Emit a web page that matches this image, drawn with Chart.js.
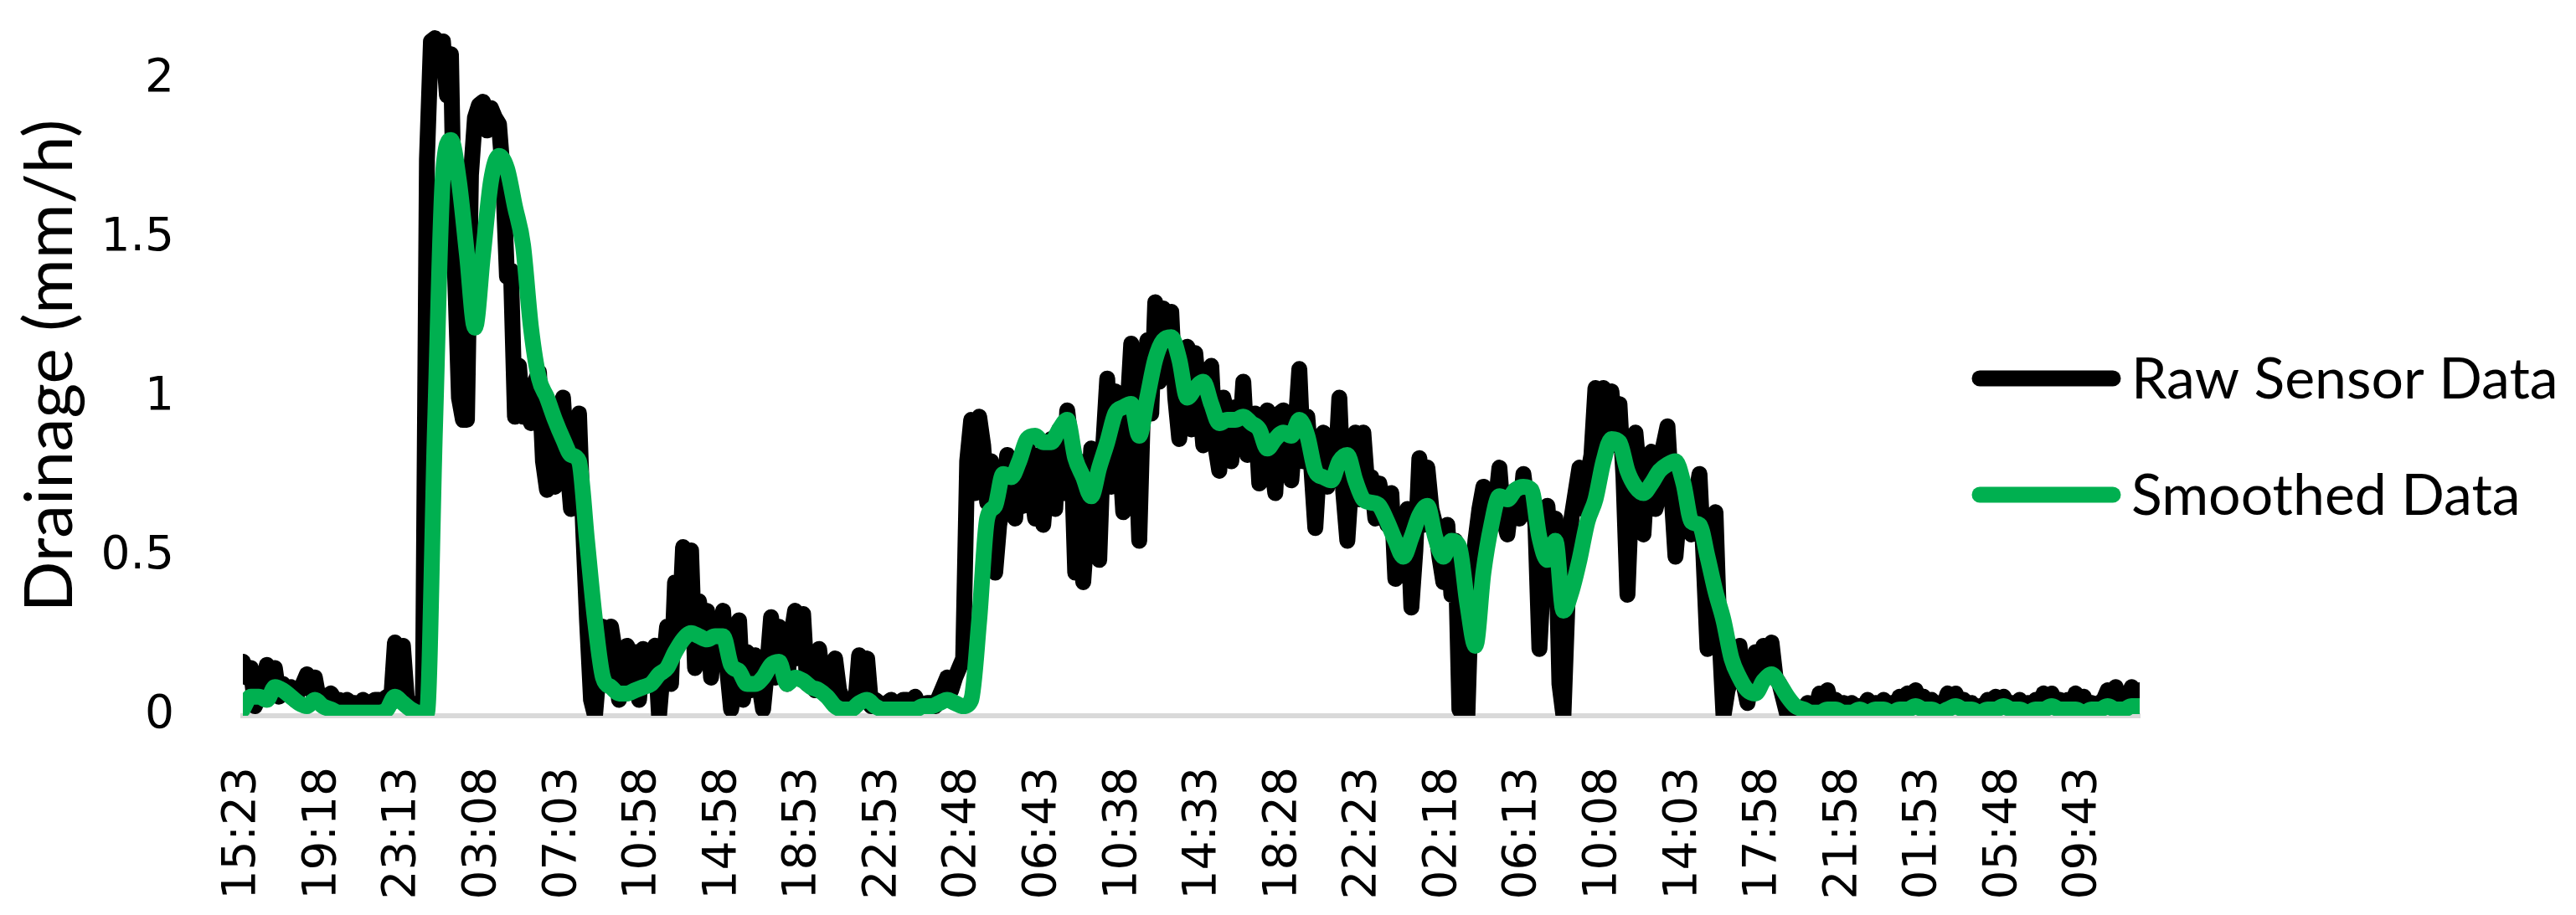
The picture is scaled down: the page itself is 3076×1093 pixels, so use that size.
<!DOCTYPE html>
<html>
<head>
<meta charset="utf-8">
<script src="https://cdn.jsdelivr.net/npm/chart.js@4.4.1/dist/chart.umd.min.js"></script>
<style>
  body { margin: 0; background: #fff; }
  canvas { display: block; }
</style>
</head>
<body>
<canvas id="drainage" width="3076" height="1093"></canvas>
<script>
// tick labels on the time axis (one every 10 samples of the smoothed series)
const tickLabels = ['15:23', '19:18', '23:13', '03:08', '07:03', '10:58', '14:58', '18:53', '22:53', '02:48',
    '06:43', '10:38', '14:33', '18:28', '22:23', '02:18', '06:13', '10:08', '14:03', '17:58',
    '21:58', '01:53', '05:48', '09:43'];
const tickEvery = 10;
const rawStep = 0.5;   // raw sensor sampled twice as often as the smoothed series

// raw sensor readings (mm/h)
const rawData = [
    0.17, 0.12, 0.15, 0.03, 0.06, 0.10, 0.16, 0.12, 0.15, 0.06,
    0.10, 0.07, 0.09, 0.05, 0.08, 0.10, 0.13, 0.08, 0.12, 0.05,
    0.06, 0.04, 0.07, 0.05, 0.05, 0.03, 0.05, 0.04, 0.04, 0.03,
    0.05, 0.04, 0.04, 0.05, 0.05, 0.03, 0.06, 0.04, 0.23, 0.20,
    0.22, 0.05, 0.04, 0.02, 0.03, 0.05, 1.75, 2.12, 2.13, 2.10,
    2.12, 1.95, 2.08, 1.40, 1.00, 0.93, 0.93, 1.70, 1.88, 1.92,
    1.93, 1.84, 1.91, 1.88, 1.86, 1.70, 1.38, 1.40, 0.94, 1.10,
    0.94, 0.96, 0.92, 1.05, 1.08, 0.80, 0.71, 0.90, 0.72, 0.95,
    1.00, 0.80, 0.65, 0.90, 0.95, 0.60, 0.30, 0.05, 0.00, 0.15,
    0.28, 0.10, 0.28, 0.20, 0.05, 0.15, 0.22, 0.08, 0.20, 0.05,
    0.21, 0.10, 0.18, 0.22, 0.00, 0.15, 0.28, 0.10, 0.42, 0.25,
    0.53, 0.30, 0.52, 0.15, 0.36, 0.20, 0.33, 0.12, 0.30, 0.20,
    0.33, 0.15, 0.02, 0.10, 0.30, 0.05, 0.20, 0.08, 0.19, 0.10,
    0.02, 0.15, 0.31, 0.12, 0.28, 0.20, 0.10, 0.25, 0.33, 0.18,
    0.32, 0.10, 0.14, 0.08, 0.21, 0.10, 0.15, 0.06, 0.18, 0.08,
    0.05, 0.02, 0.04, 0.03, 0.19, 0.06, 0.18, 0.03, 0.05, 0.04,
    0.03, 0.04, 0.05, 0.03, 0.04, 0.05, 0.05, 0.04, 0.06, 0.03,
    0.03, 0.04, 0.04, 0.03, 0.06, 0.09, 0.12, 0.08, 0.12, 0.15,
    0.18, 0.80, 0.93, 0.70, 0.94, 0.85, 0.67, 0.80, 0.45, 0.60,
    0.67, 0.82, 0.77, 0.62, 0.80, 0.66, 0.86, 0.72, 0.62, 0.82,
    0.60, 0.75, 0.87, 0.65, 0.90, 0.70, 0.96, 0.85, 0.45, 0.80,
    0.42, 0.60, 0.84, 0.66, 0.49, 0.85, 1.06, 0.72, 1.02, 0.85,
    0.64, 0.95, 1.17, 0.90, 0.55, 1.00, 1.18, 0.95, 1.30, 1.05,
    1.28, 1.10, 1.27, 1.00, 0.87, 1.05, 1.16, 0.90, 1.14, 1.00,
    0.85, 0.95, 1.10, 0.85, 0.77, 1.00, 0.95, 0.80, 0.97, 0.85,
    1.05, 0.82, 0.90, 0.95, 0.73, 0.92, 0.96, 0.80, 0.70, 0.95,
    0.96, 0.82, 0.74, 0.90, 1.09, 0.80, 0.94, 0.78, 0.59, 0.80,
    0.89, 0.72, 0.88, 0.76, 1.00, 0.70, 0.55, 0.74, 0.89, 0.68,
    0.89, 0.72, 0.75, 0.62, 0.73, 0.66, 0.60, 0.70, 0.43, 0.62,
    0.55, 0.65, 0.34, 0.52, 0.81, 0.60, 0.78, 0.65, 0.60, 0.50,
    0.42, 0.60, 0.38, 0.55, 0.02, 0.00, 0.00, 0.40, 0.55, 0.65,
    0.72, 0.60, 0.70, 0.66, 0.78, 0.62, 0.57, 0.68, 0.71, 0.62,
    0.76, 0.66, 0.70, 0.60, 0.21, 0.45, 0.66, 0.50, 0.62, 0.10,
    0.00, 0.35, 0.62, 0.70, 0.78, 0.65, 0.75, 0.82, 1.03, 0.80,
    1.03, 0.90, 1.02, 0.85, 0.98, 0.75, 0.38, 0.70, 0.89, 0.75,
    0.57, 0.78, 0.83, 0.65, 0.70, 0.85, 0.91, 0.70, 0.50, 0.65,
    0.60, 0.72, 0.57, 0.68, 0.76, 0.50, 0.21, 0.55, 0.64, 0.25,
    0.00, 0.08, 0.12, 0.20, 0.22, 0.10, 0.04, 0.12, 0.20, 0.10,
    0.22, 0.15, 0.23, 0.12, 0.10, 0.05, 0.00, 0.02, 0.03, 0.02,
    0.02, 0.04, 0.03, 0.02, 0.07, 0.05, 0.08, 0.03, 0.05, 0.03,
    0.04, 0.02, 0.04, 0.03, 0.03, 0.02, 0.05, 0.03, 0.04, 0.02,
    0.05, 0.03, 0.04, 0.03, 0.06, 0.04, 0.07, 0.05, 0.08, 0.04,
    0.06, 0.03, 0.05, 0.02, 0.04, 0.03, 0.07, 0.05, 0.07, 0.04,
    0.05, 0.03, 0.04, 0.02, 0.03, 0.02, 0.05, 0.03, 0.06, 0.04,
    0.06, 0.03, 0.04, 0.02, 0.05, 0.03, 0.04, 0.02, 0.05, 0.04,
    0.07, 0.05, 0.07, 0.04, 0.05, 0.03, 0.05, 0.04, 0.07, 0.05,
    0.06, 0.03, 0.04, 0.02, 0.04, 0.05, 0.08, 0.06, 0.09, 0.05,
    0.07, 0.06, 0.09, 0.07, 0.08
];

// smoothed series (mm/h)
const smoothData = [
    0.02, 0.06, 0.06, 0.05, 0.09, 0.08, 0.06, 0.04, 0.03, 0.05,
    0.03, 0.02, 0.01, 0.01, 0.01, 0.01, 0.01, 0.01, 0.02, 0.06,
    0.04, 0.02, 0.01, 0.01, 0.90, 1.70, 1.81, 1.68, 1.45, 1.22,
    1.45, 1.68, 1.76, 1.72, 1.60, 1.48, 1.22, 1.06, 1.00, 0.93,
    0.87, 0.82, 0.80, 0.55, 0.30, 0.12, 0.09, 0.07, 0.07, 0.08,
    0.09, 0.10, 0.13, 0.15, 0.20, 0.24, 0.26, 0.25, 0.24, 0.25,
    0.25, 0.16, 0.14, 0.10, 0.10, 0.12, 0.16, 0.17, 0.10, 0.12,
    0.11, 0.09, 0.08, 0.06, 0.03, 0.02, 0.02, 0.04, 0.05, 0.03,
    0.02, 0.02, 0.02, 0.02, 0.02, 0.03, 0.03, 0.04, 0.05, 0.04,
    0.03, 0.05, 0.30, 0.62, 0.66, 0.76, 0.75, 0.80, 0.87, 0.88,
    0.86, 0.86, 0.90, 0.93, 0.81, 0.75, 0.69, 0.78, 0.86, 0.95,
    0.97, 0.98, 0.88, 1.00, 1.12, 1.18, 1.19, 1.12, 1.00, 1.03,
    1.05, 0.98, 0.92, 0.93, 0.93, 0.94, 0.92, 0.90, 0.84, 0.87,
    0.89, 0.88, 0.93, 0.88, 0.77, 0.75, 0.74, 0.80, 0.82, 0.74,
    0.68, 0.67, 0.66, 0.61, 0.55, 0.50, 0.56, 0.63, 0.66, 0.56,
    0.50, 0.55, 0.53, 0.35, 0.22, 0.45, 0.60, 0.69, 0.68, 0.71,
    0.72, 0.71, 0.56, 0.49, 0.55, 0.33, 0.39, 0.49, 0.61, 0.68,
    0.80, 0.87, 0.86, 0.77, 0.72, 0.70, 0.73, 0.77, 0.79, 0.80,
    0.73, 0.61, 0.60, 0.50, 0.39, 0.30, 0.18, 0.12, 0.08, 0.07,
    0.11, 0.13, 0.10, 0.06, 0.03, 0.02, 0.01, 0.01, 0.02, 0.02,
    0.01, 0.01, 0.02, 0.01, 0.02, 0.02, 0.01, 0.02, 0.02, 0.03,
    0.02, 0.02, 0.01, 0.02, 0.03, 0.02, 0.02, 0.01, 0.02, 0.02,
    0.03, 0.02, 0.02, 0.01, 0.02, 0.02, 0.03, 0.02, 0.02, 0.02,
    0.01, 0.02, 0.02, 0.03, 0.02, 0.02, 0.03, 0.03
];

const rawPontos = rawData.map((v, i) => ({ x: i * rawStep, y: v }));
const smoothPontos = smoothData.map((v, i) => ({ x: i, y: v }));

// legend drawn over the right part of the plot, like the original
const legendLinhas = {
    id: 'legendLinhas',
    afterDraw(chart) {
        const ctx = chart.ctx;
        ctx.save();
        chart.data.datasets.forEach((ds, i) => {
            const y = 452 + i * 139;
            ctx.strokeStyle = ds.borderColor;
            ctx.lineWidth = 19;
            ctx.lineCap = 'round';
            ctx.beginPath();
            ctx.moveTo(2364, y);
            ctx.lineTo(2523, y);
            ctx.stroke();
            ctx.fillStyle = '#000';
            ctx.font = '68px Lato';
            ctx.textBaseline = 'middle';
            ctx.fillText(ds.label, 2545, y + 2);
        });
        ctx.restore();
    }
};

const contexto = document.getElementById('drainage').getContext('2d');
new Chart(contexto, {
    type: 'line',
    data: {
        datasets: [{
            label: 'Raw Sensor Data',
            data: rawPontos,
            borderColor: '#000000',
            borderWidth: 19,
            pointRadius: 0,
            borderJoinStyle: 'round',
            borderCapStyle: 'round',
            tension: 0,
            order: 1
        }, {
            label: 'Smoothed Data',
            data: smoothPontos,
            borderColor: '#00b050',
            borderWidth: 19,
            pointRadius: 0,
            borderJoinStyle: 'round',
            borderCapStyle: 'round',
            cubicInterpolationMode: 'monotone',
            order: 0
        }]
    },
    options: {
        responsive: false,
        animation: false,
        devicePixelRatio: 1,
        layout: {
            padding: { top: 19, right: 521, left: 0, bottom: 0 }
        },
        plugins: {
            legend: { display: false },
            tooltip: { enabled: false }
        },
        scales: {
            x: {
                type: 'linear',
                min: 0,
                max: smoothData.length - 1,
                grid: { display: false },
                border: { display: true, color: '#d9d9d9', width: 6 },
                ticks: {
                    autoSkip: false,
                    minRotation: 90,
                    maxRotation: 90,
                    padding: 53,
                    color: '#000',
                    font: { family: 'DejaVu Sans', size: 55 },
                    callback: (value) => tickLabels[Math.round(value / tickEvery)]
                },
                afterBuildTicks: (scale) => {
                    scale.ticks = tickLabels.map((_, k) => ({ value: k * tickEvery }));
                },
                afterFit: (scale) => {
                    scale.height = 238;
                    scale.paddingLeft = 0;
                    scale.paddingRight = 0;
                }
            },
            y: {
                min: 0,
                max: 2.2,
                grid: { display: false },
                border: { display: false },
                ticks: {
                    stepSize: 0.5,
                    padding: 74,
                    color: '#000',
                    font: { family: 'DejaVu Sans', size: 55 },
                    callback: (value) => String(Math.round(value * 10) / 10)
                },
                title: {
                    display: true,
                    text: 'Drainage (mm/h)',
                    color: '#000',
                    font: { family: 'Lato', size: 80 },
                    padding: { top: 12, bottom: 0 }
                },
                afterBuildTicks: (scale) => {
                    scale.ticks = scale.ticks.filter(t => Math.abs(t.value * 2 - Math.round(t.value * 2)) < 1e-6);
                },
                afterFit: (scale) => {
                    scale.width = 290;
                    scale.paddingTop = 0;
                    scale.paddingBottom = 0;
                }
            }
        }
    },
    plugins: [legendLinhas]
});
</script>
</body>
</html>
